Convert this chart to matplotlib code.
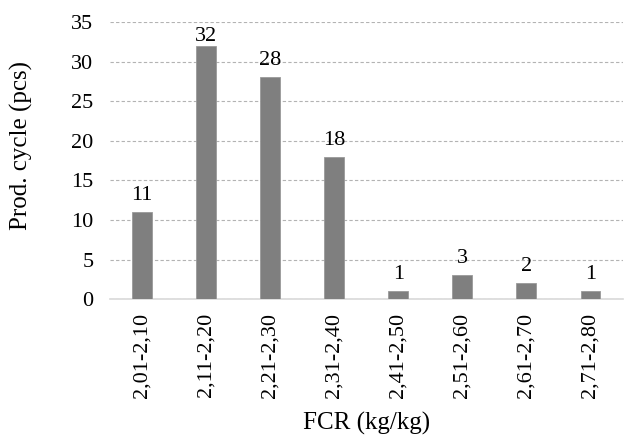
import matplotlib
matplotlib.use("Agg")
import matplotlib.pyplot as plt

# FCR classes and number of production cycles in each
categories = ["2,01-2,10", "2,11-2,20", "2,21-2,30", "2,31-2,40",
              "2,41-2,50", "2,51-2,60", "2,61-2,70", "2,71-2,80"]
cycles = [11, 32, 28, 18, 1, 3, 2, 1]
y_ticks = [0, 5, 10, 15, 20, 25, 30, 35]

plt.rcParams['font.family'] = ['Liberation Serif', 'DejaVu Serif']

fig = plt.figure(figsize=(6.25, 4.4), dpi=100)
ax = fig.add_axes([0.176, 0.32, 0.82, 0.63])

xs = range(len(categories))
ax.bar(xs, cycles, width=0.31, color="#7f7f7f", edgecolor="#9a9a9a",
       linewidth=0.6, zorder=3)

ymax = 35
# value labels above bars, kept inside the plot area near the top
for x, v in zip(xs, cycles):
    ax.text(x, min(v + 0.9, ymax - 3.0), str(v), ha="center", va="bottom",
            fontsize=16, clip_on=False)

ax.set_xlim(-0.5, len(categories) - 0.5)
ax.set_ylim(0, ymax)
ax.set_yticks(y_ticks)
ax.set_xticks(list(xs))
ax.set_xticklabels(categories, rotation=90)
ax.tick_params(axis="both", length=0, labelsize=16)
ax.tick_params(axis="x", pad=10)
ax.tick_params(axis="y", pad=12)

ax.yaxis.grid(True, linestyle=(0, (3, 2)), color="#b3b3b3", linewidth=0.8, zorder=0)
for side in ["top", "right", "left"]:
    ax.spines[side].set_visible(False)
ax.spines["bottom"].set_color("#d9d9d9")
ax.spines["bottom"].set_linewidth(1.2)

ax.set_ylabel("Prod. cycle (pcs)", fontsize=18)
ax.yaxis.set_label_coords(-0.15, 0.556)
ax.set_xlabel("FCR (kg/kg)", fontsize=18, labelpad=10)

fig.savefig("out.png", dpi=100)
